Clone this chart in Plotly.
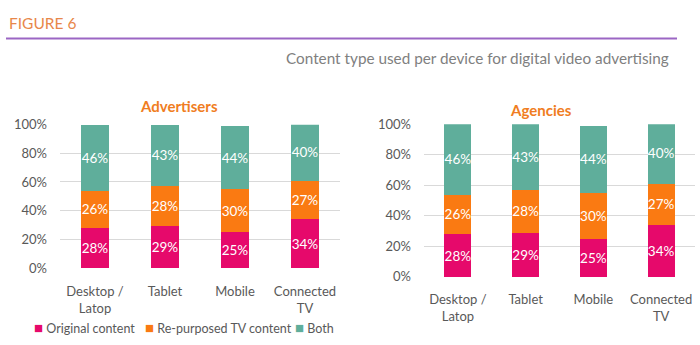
import plotly.graph_objects as go

# Devices on the x axis
devices = ["Desktop /<br>Latop", "Tablet", "Mobile", "Connected<br>TV"]

# Share of each content type per device (same survey shares for both panels)
adv_original = [0.28, 0.29, 0.25, 0.34]
adv_repurposed = [0.26, 0.28, 0.30, 0.27]
adv_both = [0.46, 0.43, 0.44, 0.40]

agc_original = [0.28, 0.29, 0.25, 0.34]
agc_repurposed = [0.26, 0.28, 0.30, 0.27]
agc_both = [0.46, 0.43, 0.44, 0.40]

series_names = ["Original content", "Re-purposed TV content", "Both"]
series_colors = ["#E6096B", "#FA7A12", "#5FAE9B"]

y_ticks = [0, 0.2, 0.4, 0.6, 0.8, 1.0]

W, H = 700, 345
FONT = "Lato"
GRAY = "#595959"


def px(x):
    return x / W


def py(y):
    return 1 - y / H


fig = go.Figure()

panels = [
    ("x", "y", [adv_original, adv_repurposed, adv_both]),
    ("x2", "y2", [agc_original, agc_repurposed, agc_both]),
]
for xa, ya, data in panels:
    for name, color, vals in zip(series_names, series_colors, data):
        fig.add_trace(go.Bar(
            x=devices, y=vals, name=name, marker_color=color,
            marker_line_width=0, width=0.4,
            xaxis=xa, yaxis=ya, showlegend=False,
            texttemplate="%{y:.0%}", textposition="inside",
            insidetextanchor="middle", textangle=0, constraintext="none",
            textfont=dict(color="white", size=13.5, family=FONT),
        ))

axis_common = dict(showline=False, zeroline=False, ticks="",
                   tickfont=dict(size=13, color=GRAY, family=FONT))
yaxis_common = dict(axis_common, range=[0, 1], tickvals=y_ticks,
                    tickformat=".0%", showgrid=True, gridcolor="#D9D9D9",
                    gridwidth=1, ticklabelstandoff=12)
xaxis_common = dict(axis_common, showgrid=False, type="category")

fig.update_layout(
    width=W, height=H, margin=dict(l=0, r=0, t=0, b=0),
    paper_bgcolor="white", plot_bgcolor="white", barmode="stack",
    font=dict(family=FONT, color=GRAY),
    xaxis=dict(xaxis_common, domain=[px(60), px(340)], anchor="y",
               ticklabelstandoff=14),
    yaxis=dict(yaxis_common, domain=[py(272.7), py(122.3)], anchor="x"),
    xaxis2=dict(xaxis_common, domain=[px(424), px(695)], anchor="y2",
                ticklabelstandoff=13),
    yaxis2=dict(yaxis_common, domain=[py(282), py(122)], anchor="x2"),
)

# Header: figure number, rule and subtitle
fig.add_annotation(x=px(7), y=py(16), xref="paper", yref="paper",
                   xanchor="left", yanchor="middle", showarrow=False,
                   text="FIGURE 6",
                   font=dict(size=15.5, color="#E8874A", family=FONT))
fig.add_shape(type="line", xref="paper", yref="paper",
              x0=px(6), x1=px(677), y0=py(32), y1=py(32),
              line=dict(color="#9B66C4", width=2))
fig.add_annotation(x=px(671), y=py(52), xref="paper", yref="paper",
                   xanchor="right", yanchor="middle", showarrow=False,
                   text="Content type used per device for digital video advertising",
                   font=dict(size=15.3, color="#808080", family=FONT))

# Panel titles
for label, cx, cy in [("Advertisers", 179, 103), ("Agencies", 541, 107)]:
    fig.add_annotation(x=px(cx), y=py(cy), xref="paper", yref="paper",
                       xanchor="center", yanchor="middle", showarrow=False,
                       text=f"<b>{label}</b>",
                       font=dict(size=15, color="#F07D22", family=FONT))

# Legend row below the left panel
legend_x = [32, 143, 293]
for name, color, lx in zip(series_names, series_colors, legend_x):
    fig.add_annotation(x=px(lx), y=py(335), xref="paper", yref="paper",
                       xanchor="left", yanchor="middle", showarrow=False,
                       text=(f"<span style='color:{color};font-size:15px'>■</span>"
                             f" {name}"),
                       font=dict(size=12.5, color=GRAY, family=FONT))

fig.write_html("out.html")
